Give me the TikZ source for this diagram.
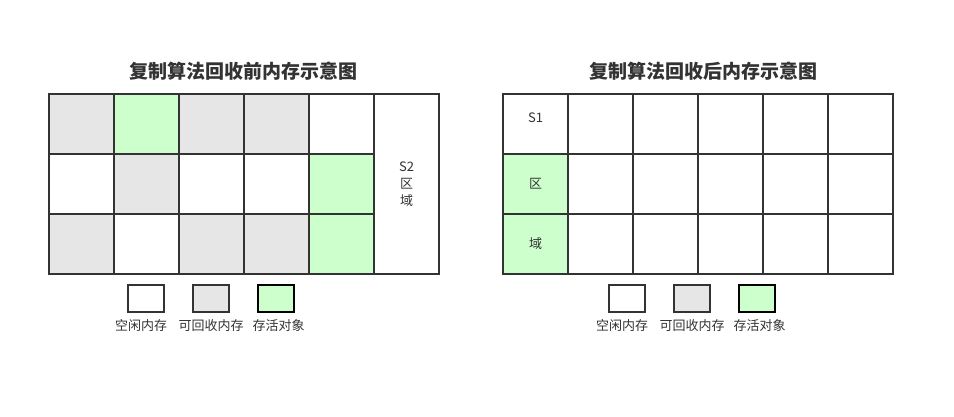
\documentclass[tikz,border=0pt]{standalone}
\usepackage{fontspec}
\setmainfont{Noto Sans CJK SC}
\definecolor{freec}{HTML}{FFFFFF}
\definecolor{gcc}{HTML}{E6E6E6}
\definecolor{livec}{HTML}{CCFFCC}
\definecolor{linec}{HTML}{333333}
\tikzset{
  cell/.style={draw=linec, line width=2pt, minimum width=65pt, minimum height=60pt, inner sep=0pt, anchor=north west, font=\fontsize{13}{17}\selectfont, text=linec},
  legbox/.style={draw=linec, line width=2pt, minimum width=36pt, minimum height=27pt, inner sep=0pt},
  leglabel/.style={font=\fontsize{13}{15}\selectfont, text=linec, inner sep=0pt},
  title/.style={font=\bfseries\fontsize{19}{21}\selectfont, text=linec, inner sep=0pt},
}
\begin{document}
\begin{tikzpicture}[x=1pt,y=-1pt]
\useasboundingbox[fill=white] (0,0) rectangle (954,416);
% titles
\node[title] (t1) at (243,71) {复制算法回收前内存示意图};
\node[title] (t2) at (703,71) {复制算法回收后内存示意图};
% left grid
\foreach \r/\cols in {0/{gcc,livec,gcc,gcc,freec},1/{freec,gcc,freec,freec,livec},2/{gcc,freec,gcc,gcc,livec}}{
  \foreach \c [count=\i from 0] in \cols {
    \node[cell, fill=\c] (L\r\i) at ({48+65*\i},{93+60*\r}) {};
  }
}
\node[cell, fill=white, minimum height=180pt, align=center] (S2) at (373,93) {S2\\区\\域};
% right grid
\node[cell, fill=white] (R00) at (502,93) {\raisebox{2pt}[0pt][0pt]{S1}};
\node[cell, fill=livec] (R10) at (502,153) {区};
\node[cell, fill=livec] (R20) at (502,213) {域};
\foreach \r in {0,1,2}{
  \foreach \i in {1,...,5}{
    \node[cell, fill=white] (R\r\i) at ({502+65*\i},{93+60*\r}) {};
  }
}
% legends
\foreach \side/\x in {A/146,B/627}{
  \node[legbox, fill=white] (\side f) at (\x,298.5) {};
  \node[legbox, fill=gcc] (\side g) at (\x+65,298.5) {};
  \node[legbox, fill=livec, draw=black] (\side l) at (\x+130,298.5) {};
  \node[leglabel] (\side ft) at (\x-5,326) {空闲内存};
  \node[leglabel] (\side gt) at (\x+65,326) {可回收内存};
  \node[leglabel] (\side lt) at (\x+132.5,326) {存活对象};
}
\end{tikzpicture}
\end{document}
